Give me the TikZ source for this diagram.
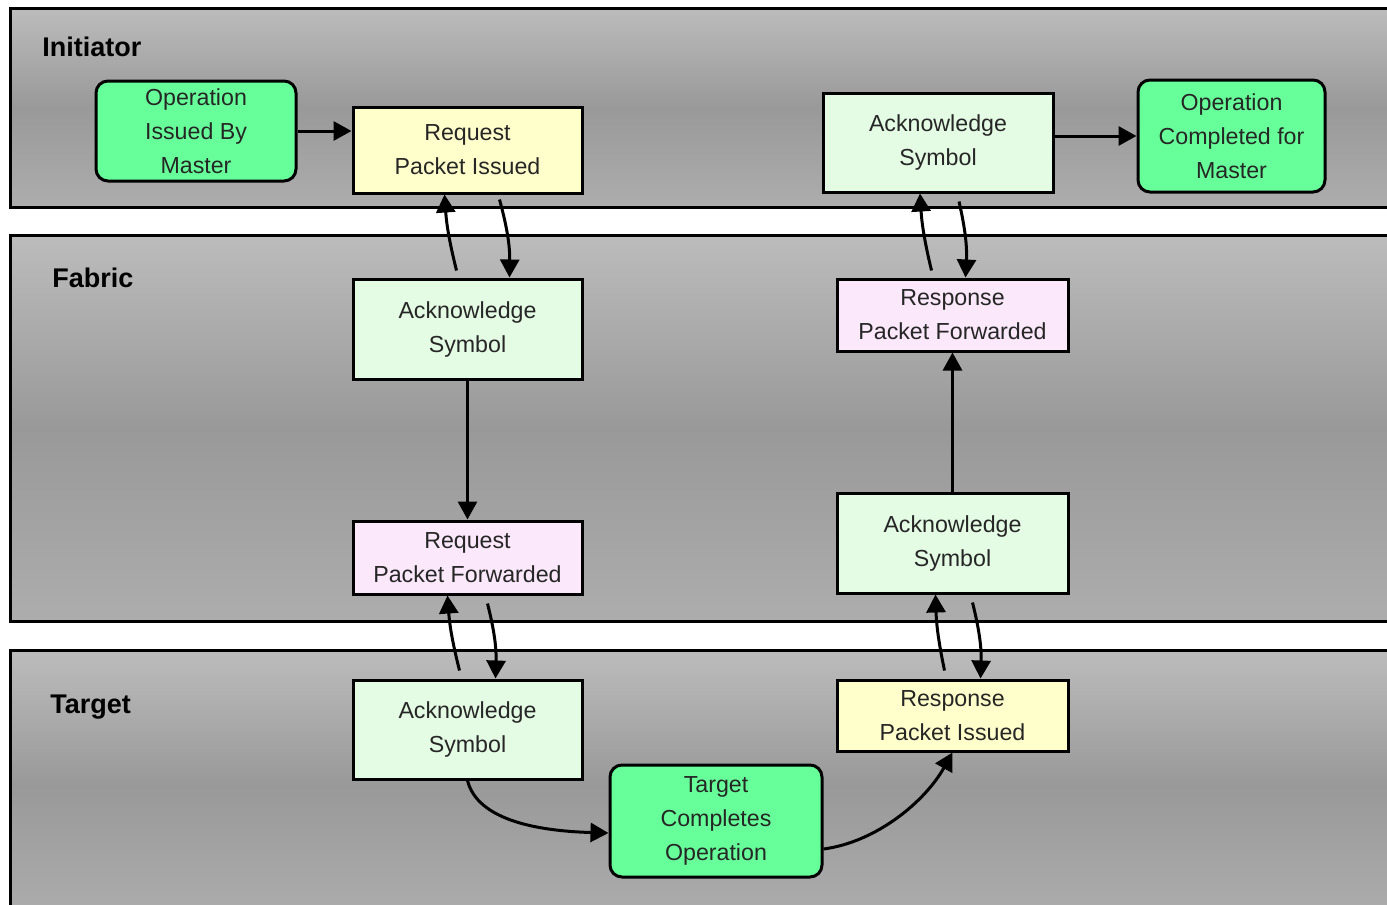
\documentclass[tikz,border=0pt]{standalone}
\usepackage{fontspec}
\setmainfont{Liberation Sans}
\usetikzlibrary{arrows.meta,calc}
\definecolor{opgreen}{HTML}{66FF99}
\definecolor{ackfill}{HTML}{E4FBE4}
\definecolor{pktyellow}{HTML}{FFFFCC}
\definecolor{fwdpink}{HTML}{FBE8FB}
\definecolor{bandlight}{HTML}{BCBCBC}
\definecolor{banddark}{HTML}{999999}

\begin{document}
\begin{tikzpicture}[x=0.5pt,y=-0.5pt,
  band/.style={draw=black,line width=1.5pt,top color=bandlight,bottom color=bandlight!92!black,middle color=banddark},
  lanelabel/.style={font=\fontsize{13.5}{16}\selectfont\bfseries,anchor=west,inner sep=0pt},
  box/.style={draw=black,line width=1.5pt,align=center,inner sep=0pt,
    font=\fontsize{11.6}{17}\selectfont,text=black!85},
  opbox/.style={box,fill=opgreen,rounded corners=6pt},
  ackbox/.style={box,fill=ackfill},
  pktbox/.style={box,fill=pktyellow},
  fwdbox/.style={box,fill=fwdpink},
  flow/.style={line width=1.5pt,-{Triangle[length=9pt,width=9.5pt]}}
]
\useasboundingbox (0,0) rectangle (1387,905);
\clip (0,0) rectangle (1387,905);
\fill[white] (0,0) rectangle (1387,905);

% swim lanes
\draw[band] (10,8) rectangle (1400,207);
\draw[band] (10,235) rectangle (1400,621);
\draw[band] (10,650) rectangle (1400,920);
\node[lanelabel] (lini) at (42,47) {Initiator};
\node[lanelabel] (lfab) at (52,278) {Fabric};
\node[lanelabel] (ltgt) at (50,707) {Target};

% initiator
\node[opbox,minimum width=100pt,minimum height=50pt] (op1) at (196,131) {Operation\\Issued By\\Master};
\node[pktbox,minimum width=114.5pt,minimum height=43pt] (req) at (467.5,150) {Request\\Packet Issued};
\node[ackbox,minimum width=115pt,minimum height=49.5pt] (acki) at (938,142.5) {Acknowledge\\Symbol};
\node[opbox,minimum width=93.5pt,minimum height=56pt] (op2) at (1231.5,136) {Operation\\Completed for\\Master};

% fabric
\node[ackbox,minimum width=114.5pt,minimum height=50pt] (fackl) at (467.5,329) {Acknowledge\\Symbol};
\node[fwdbox,minimum width=114.5pt,minimum height=36.5pt] (rqf) at (467.5,557.5) {Request\\Packet Forwarded};
\node[fwdbox,minimum width=115.5pt,minimum height=36pt] (rsf) at (952.5,315) {Response\\Packet Forwarded};
\node[ackbox,minimum width=115.5pt,minimum height=50pt] (fackr) at (952.5,543) {Acknowledge\\Symbol};

% target
\node[ackbox,minimum width=114.5pt,minimum height=49.5pt] (tackl) at (467.5,729.5) {Acknowledge\\Symbol};
\node[opbox,minimum width=106pt,minimum height=56pt] (tco) at (716,821) {Target\\Completes\\Operation};
\node[pktbox,minimum width=115.5pt,minimum height=35.5pt] (rsi) at (952.5,715.5) {Response\\Packet Issued};

% request path
\draw[flow] (op1.east) -- (op1.east -| req.west);
\draw[flow] ($(fackl.north)+(-11,-7)$) to[bend left=5] ($(req.south)+(-23,0)$);
\draw[flow] ($(req.south)+(32,5)$) to[bend left=8] ($(fackl.north)+(42,0)$);
\draw[flow] (fackl.south) -- (rqf.north);
\draw[flow] ($(tackl.north)+(-8,-8)$) to[bend left=5] ($(rqf.south)+(-20,0)$);
\draw[flow] ($(rqf.south)+(20,8)$) to[bend left=8] ($(tackl.north)+(28,0)$);
\draw[flow] (tackl.south) .. controls ($(tackl.south)+(10,40)$) and ($(tco.west)+(-70,10)$) .. ($(tco.west)+(0,12)$);

% response path
\draw[flow] ($(tco.east)+(0,28)$) .. controls ($(tco.east)+(53,21)$) and ($(rsi.south)+(-27.5,49)$) .. (rsi.south);
\draw[flow] ($(rsi.north)+(-8,-8)$) to[bend left=5] ($(fackr.south)+(-17,0)$);
\draw[flow] ($(fackr.south)+(20,8)$) to[bend left=8] ($(rsi.north)+(28,0)$);
\draw[flow] (fackr.north) -- (rsf.south);
\draw[flow] ($(rsf.north)+(-21,-7)$) to[bend left=5] ($(acki.south)+(-18,0)$);
\draw[flow] ($(acki.south)+(21,8)$) to[bend left=8] ($(rsf.north)+(13,0)$);
\draw[flow] (acki.east |- op2.west) -- (op2.west);
\end{tikzpicture}
\end{document}
